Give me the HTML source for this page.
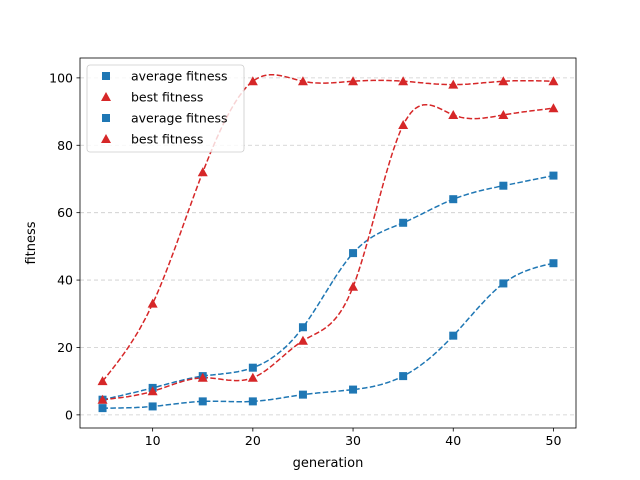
<!DOCTYPE html>
<html><head><meta charset="utf-8"><style>
body{margin:0;background:#fff}
svg{display:block;font-family:"DejaVu Sans","Liberation Sans",sans-serif}
</style></head><body>
<svg id="chart" width="640" height="480"></svg>
<script>
const gens=[5,10,15,20,25,30,35,40,45,50];
const avgA=[4.5,8,11.5,14,26,48,57,64,68,71];
const bestA=[10,33,72,99,99,99,99,98,99,99];
const avgB=[2,2.5,4,4,6,7.5,11.5,23.5,39,45];
const bestB=[4.5,7,11,11,22,38,86,89,89,91];
const xTicks=[10,20,30,40,50];
const yTicks=[0,20,40,60,80,100];
const legendLabels=["average fitness","best fitness","average fitness","best fitness"];
const NS="http://www.w3.org/2000/svg";
const svg=document.getElementById('chart');
const L=80,R=576,T=58,B=428;
const xMin=2.75,xMax=52.25,yMin=-3.9,yMax=105.9;
const X=v=>L+(v-xMin)/(xMax-xMin)*(R-L);
const Y=v=>B-(v-yMin)/(yMax-yMin)*(B-T);
function el(tag,attrs,parent){const e=document.createElementNS(NS,tag);for(const k in attrs)e.setAttribute(k,attrs[k]);(parent||svg).appendChild(e);return e;}
// grid
yTicks.forEach(t=>{
 const g=el('line',{x1:L,x2:R,y1:Y(t),y2:Y(t),stroke:'#cccccc','stroke-dasharray':'4,3','stroke-width':0.8});
 
 
});
function spline(xs,ys){
 const n=xs.length,h=[],a=[],l=[1],mu=[0],z=[0],c=new Array(n).fill(0),b=[],d=[];
 for(let i=0;i<n-1;i++)h.push(xs[i+1]-xs[i]);
 for(let i=1;i<n-1;i++)a[i]=3/h[i]*(ys[i+1]-ys[i])-3/h[i-1]*(ys[i]-ys[i-1]);
 for(let i=1;i<n-1;i++){l[i]=2*(xs[i+1]-xs[i-1])-h[i-1]*mu[i-1];mu[i]=h[i]/l[i];z[i]=(a[i]-h[i-1]*z[i-1])/l[i];}
 l[n-1]=1;z[n-1]=0;c[n-1]=0;
 for(let j=n-2;j>=0;j--){c[j]=z[j]-mu[j]*c[j+1];b[j]=(ys[j+1]-ys[j])/h[j]-h[j]*(c[j+1]+2*c[j])/3;d[j]=(c[j+1]-c[j])/(3*h[j]);}
 const pts=[];
 for(let j=0;j<n-1;j++)for(let k=0;k<20;k++){const dx=h[j]*k/20;pts.push([xs[j]+dx,ys[j]+b[j]*dx+c[j]*dx*dx+d[j]*dx*dx*dx]);}
 pts.push([xs[n-1],ys[n-1]]);return pts;
}
const series=[[avgA,'#1f77b4','s','avg-a'],[bestA,'#d62728','t','best-a'],[avgB,'#1f77b4','s','avg-b'],[bestB,'#d62728','t','best-b']];
series.forEach(([vals,col,m,name])=>{
 const p=spline(gens,vals).map(q=>X(q[0]).toFixed(1)+','+Y(q[1]).toFixed(1)).join(' ');
 const pl=el('polyline',{points:p,fill:'none',stroke:col,'stroke-width':1.5,'stroke-dasharray':'5.5,2.4'});
 
 
});
function marker(m,x,y,col){
 if(m==='s')return el('rect',{x:x-4,y:y-4,width:8,height:8,fill:col});
 return el('polygon',{points:`${x},${y-5} ${x+5},${y+4} ${x-5},${y+4}`,fill:col});
}
series.forEach(([vals,col,m,name])=>{
 vals.forEach((v,i)=>{
  const mk=marker(m,X(gens[i]),Y(v),col);
  
  
 });
});
// axes box
const box=el('rect',{x:L,y:T,width:R-L,height:B-T,fill:'none',stroke:'#000','stroke-width':0.8});


xTicks.forEach(t=>{
 el('line',{x1:X(t),x2:X(t),y1:B,y2:B+3.5,stroke:'#000','stroke-width':0.8});
 const tx=el('text',{x:X(t),y:B+17,'text-anchor':'middle','font-size':12.5});
 tx.textContent=t;
 
 
});
yTicks.forEach(t=>{
 el('line',{x1:L-3.5,x2:L,y1:Y(t),y2:Y(t),stroke:'#000','stroke-width':0.8});
 const tx=el('text',{x:L-7,y:Y(t)+4.5,'text-anchor':'end','font-size':12.5});
 tx.textContent=t;
 
 
});
const xt=el('text',{x:(L+R)/2,y:467,'text-anchor':'middle','font-size':13});
xt.textContent='generation';


const yt=el('text',{x:35,y:(T+B)/2,'text-anchor':'middle','font-size':13,transform:`rotate(-90 35 ${(T+B)/2})`});
yt.textContent='fitness';


// legend
const lg=el('rect',{x:87,y:65,width:157,height:87,rx:3,fill:'#fff','fill-opacity':0.8,stroke:'#cccccc','stroke-width':0.8});


legendLabels.forEach((lab,i)=>{
 const y=76+i*21;
 const s=series[i];
 const mk=marker(s[2],106,y,s[1]);
 
 
 const tx=el('text',{x:131,y:y+4.5,'font-size':12.5});
 tx.textContent=lab;
 
 
});
</script>
</body></html>
